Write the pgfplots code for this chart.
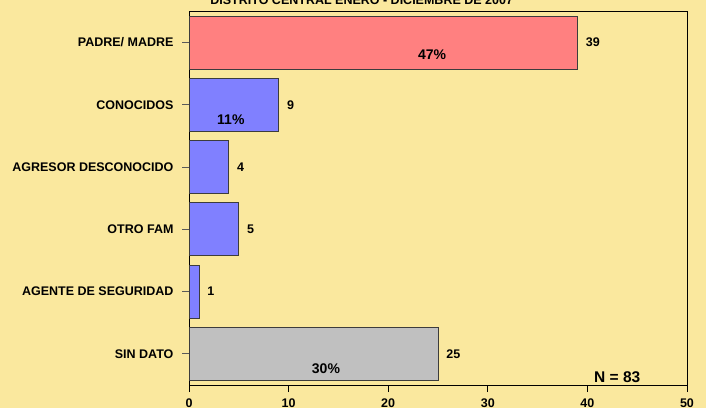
\documentclass[border=0pt]{standalone}
\usepackage{pgfplots}
\pgfplotsset{compat=1.18}
\usepackage{fontspec}
\setmainfont{Liberation Sans}
\definecolor{bgy}{RGB}{250,232,158}
\definecolor{barred}{RGB}{255,128,128}
\definecolor{barblue}{RGB}{128,128,255}
\definecolor{bargray}{RGB}{192,192,192}
\definecolor{edge}{RGB}{60,60,60}
\begin{document}
\begin{tikzpicture}[x=1pt,y=1pt]
\fill[bgy] (0,0) rectangle (706,408);
\node[anchor=base,font=\fontsize{12.5}{14}\selectfont\bfseries] at (361.7,403.3) {DISTRITO CENTRAL ENERO - DICIEMBRE DE 2007};
\begin{axis}[
  at={(189pt,23pt)}, anchor=south west,
  scale only axis, width=498pt, height=373.7pt,
  xbar, bar width=0.85,
  xmin=0, xmax=50, ymin=-0.5, ymax=5.5,
  y dir=reverse,
  xtick={0,10,20,30,40,50},
  ytick={0,1,2,3,4,5},
  yticklabels={PADRE/ MADRE,CONOCIDOS,AGRESOR DESCONOCIDO,OTRO FAM,AGENTE DE SEGURIDAD,SIN DATO},
  xtick pos=bottom, ytick pos=left,
  tick align=outside,
  major tick length=7pt,
  ytick style={draw=black!65, line width=0.8pt},
  xtick style={draw=black, line width=0.8pt},
  axis line style={line width=0.8pt},
  /pgf/number format/assume math mode=true,
  ticklabel style={font=\fontsize{12.5}{14}\selectfont\bfseries},
  yticklabel style={xshift=-5pt},
  xticklabel style={yshift=-3.5pt},
  nodes near coords,
  point meta=x,
  every node near coord/.append style={font=\fontsize{12.5}{14}\selectfont\bfseries, inner sep=0pt, xshift=8pt, anchor=west},
  axis background/.style={fill=bgy},
]
\addplot[fill=barred, draw=edge, line width=0.8pt, bar shift=0pt] coordinates {(39,0)};
\addplot[fill=barblue, draw=edge, line width=0.8pt, bar shift=0pt] coordinates {(9,1) (4,2) (5,3) (1,4)};
\addplot[fill=bargray, draw=edge, line width=0.8pt, bar shift=0pt] coordinates {(25,5)};
\node[anchor=base, font=\fontsize{14}{16}\selectfont\bfseries] at (axis cs:24.4,0.278) {47\%};
\node[anchor=base, font=\fontsize{14}{16}\selectfont\bfseries] at (axis cs:4.2,1.32) {11\%};
\node[anchor=base, font=\fontsize{14}{16}\selectfont\bfseries] at (axis cs:13.75,5.318) {30\%};
\node[anchor=base, font=\fontsize{15.5}{17}\selectfont\bfseries] at (axis cs:43.0,5.457) {N = 83};
\end{axis}
\pgfresetboundingbox
\path (0,0) rectangle (706,408);
\end{tikzpicture}
\end{document}
